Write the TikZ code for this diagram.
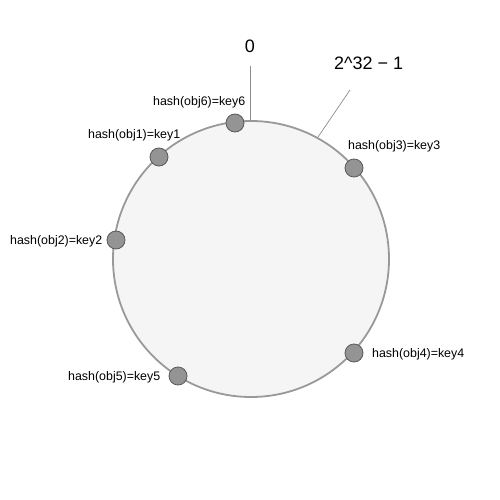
\documentclass[tikz,border=0pt]{standalone}
\usepackage{fontspec}
\setmainfont{Liberation Sans}
\begin{document}
\begin{tikzpicture}[x=1pt,y=-1pt,
  ring/.style={draw=black!40,line width=1.8pt,fill=black!4},
  keydot/.style={circle,draw=black!65,line width=0.8pt,fill=black!42,minimum size=18pt,inner sep=0pt},
  keylabel/.style={font=\fontsize{12.4}{14}\selectfont,inner sep=0pt,anchor=base west},
  bigtext/.style={font=\fontsize{18}{20}\selectfont,inner sep=0pt},
  pointer/.style={draw=black!45,line width=0.7pt}]
\useasboundingbox (0,0) rectangle (500,500);
% the hash ring
\node[ring,circle,minimum size=276pt,inner sep=0pt] (ring) at (251,259) {};
% markers for 0 and 2^32 - 1
\node[bigtext,anchor=base] (zero) at (250,53) {0};
\node[bigtext,anchor=base west] (max) at (334,70) {2\^{}32 − 1};
\coordinate (zerotop) at (250,66);
\coordinate (zerobot) at (250,121);
\coordinate (maxtop) at (350,90);
\coordinate (maxbot) at (318,137);
\draw[pointer] (zerotop) -- (zerobot);
\draw[pointer] (maxtop) -- (maxbot);
% object keys on the ring
\node[keydot] (k6) at (235,123) {};
\node[keydot] (k1) at (159,157) {};
\node[keydot] (k2) at (116,240) {};
\node[keydot] (k3) at (354,168) {};
\node[keydot] (k4) at (354,353) {};
\node[keydot] (k5) at (178,376) {};
\node[keylabel] (l6) at (153,106) {hash(obj6)=key6};
\node[keylabel] (l1) at (88,139) {hash(obj1)=key1};
\node[keylabel] (l2) at (10,244) {hash(obj2)=key2};
\node[keylabel] (l3) at (348,149) {hash(obj3)=key3};
\node[keylabel] (l4) at (372,357) {hash(obj4)=key4};
\node[keylabel] (l5) at (68,380) {hash(obj5)=key5};
\end{tikzpicture}
\end{document}
